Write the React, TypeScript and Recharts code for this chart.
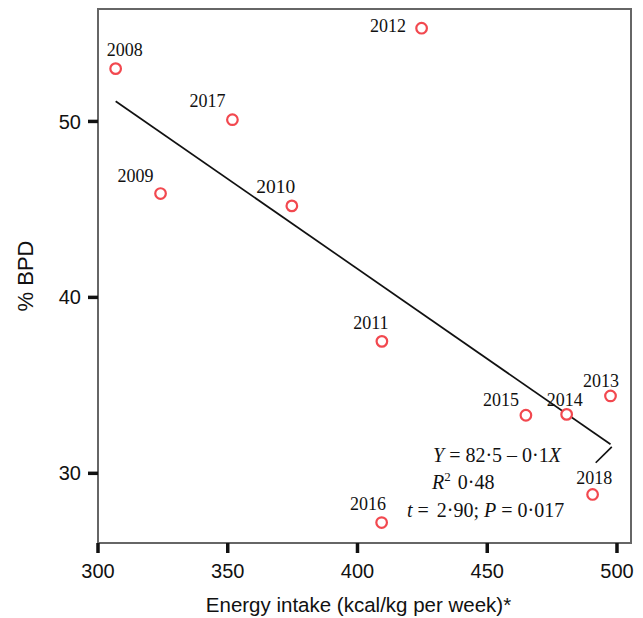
import React from 'react';
import { ScatterChart, Scatter, XAxis, YAxis, ReferenceLine, ReferenceArea } from 'recharts';

// ---- data ----
const years = [2008, 2009, 2010, 2011, 2012, 2013, 2014, 2015, 2016, 2017, 2018];
const energyIntake = [306.8, 324.1, 374.7, 409.4, 424.7, 497.5, 480.6, 464.9, 409.3, 351.8, 490.6];
const bpdPercent = [53.0, 45.9, 45.2, 37.5, 55.3, 34.4, 33.35, 33.3, 27.2, 50.1, 28.8];
const xTicks = [300, 350, 400, 450, 500];
const yTicks = [30, 40, 50];
const fitLine = [
  { x: 306.8, y: 51.15 },
  { x: 497.5, y: 31.65 },
];
const fitHook = [
  { x: 498.0, y: 31.5 },
  { x: 491.8, y: 30.6 },
];
const xDomain = [300, 505.4];
const yDomain = [26.04, 56.39];

// label placement (presentation only): dx = label center offset, dy = baseline offset
const labelOffsets: Record<number, { dx: number; dy: number; size?: number }> = {
  2008: { dx: 9, dy: -13 },
  2009: { dx: -25, dy: -11.7 },
  2010: { dx: -16, dy: -13, size: 19.5 },
  2011: { dx: -11, dy: -12 },
  2012: { dx: -33.7, dy: 3.4 },
  2013: { dx: -9.4, dy: -9.3 },
  2014: { dx: -2, dy: -8.6 },
  2015: { dx: -24.8, dy: -9.3 },
  2016: { dx: -13.7, dy: -12.3 },
  2017: { dx: -25, dy: -12.3 },
  2018: { dx: 1.6, dy: -10.3 },
};

const points = years.map((year, i) => ({ year, x: energyIntake[i], y: bpdPercent[i] }));

const SERIF = '"Liberation Serif", "Times New Roman", serif';
const SANS = '"Liberation Sans", Arial, Helvetica, sans-serif';

const PointShape = (props: any) => {
  const { cx, cy, payload } = props;
  if (cx == null || cy == null) return null;
  const off = labelOffsets[payload.year] || { dx: 0, dy: -12 };
  return (
    <g>
      <circle cx={cx} cy={cy} r={5.3} fill="#fff" stroke="#f2484f" strokeWidth={2.2} />
      <text
        x={cx + off.dx}
        y={cy + off.dy}
        textAnchor="middle"
        fontFamily={SERIF}
        fontSize={off.size || 18}
        fill="#111"
      >
        {payload.year}
      </text>
    </g>
  );
};

export default function App() {
  return (
    <div style={{ position: 'absolute', left: 0, top: 0, width: 643, height: 618, background: '#fff' }}>
      <ScatterChart width={643} height={618} margin={{ top: 9, right: 12, bottom: 0, left: 0 }}>
        <XAxis
          type="number"
          dataKey="x"
          domain={xDomain}
          ticks={xTicks}
          allowDataOverflow
          height={75}
          axisLine={{ stroke: '#666', strokeWidth: 2 }}
          tickLine={{ stroke: '#111', strokeWidth: 3.5 }}
          tickSize={10}
          tickMargin={11}
          tick={{ fill: '#111', fontSize: 20, fontFamily: SANS }}
          label={{
            content: (p: any) => {
              const vb = p.viewBox || { x: 98, y: 543, width: 533, height: 75 };
              return (
                <text x={vb.x + vb.width / 2 - 6} y={vb.y + 69} textAnchor="middle" fontFamily={SANS} fontSize={20.5} fill="#111">
                  Energy intake (kcal/kg per week)*
                </text>
              );
            },
          }}
        />
        <YAxis
          type="number"
          dataKey="y"
          domain={yDomain}
          ticks={yTicks}
          allowDataOverflow
          width={98}
          axisLine={{ stroke: '#666', strokeWidth: 2 }}
          tickLine={{ stroke: '#111', strokeWidth: 3.5 }}
          tickSize={10}
          tickMargin={7}
          tick={{ fill: '#111', fontSize: 20, fontFamily: SANS }}
          label={{
            content: (p: any) => {
              const vb = p.viewBox || { x: 0, y: 9, width: 98, height: 534 };
              const cx = vb.x + 33;
              const cy = vb.y + vb.height / 2;
              return (
                <text x={cx} y={cy} transform={`rotate(-90, ${cx}, ${cy})`} textAnchor="middle" fontFamily={SANS} fontSize={22} fill="#111">
                  % BPD
                </text>
              );
            },
          }}
        />
        <ReferenceArea
          x1={xDomain[0]}
          x2={xDomain[1]}
          y1={yDomain[0]}
          y2={yDomain[1]}
          fill="none"
          fillOpacity={0}
          stroke="#666"
          strokeWidth={2}
          ifOverflow="visible"
        />
        <ReferenceLine segment={fitLine} stroke="#111" strokeWidth={1.7} ifOverflow="visible" />
        <ReferenceLine segment={fitHook} stroke="#111" strokeWidth={1.7} ifOverflow="visible" />
        <Scatter data={points} isAnimationActive={false} shape={PointShape} />
      </ScatterChart>
      <svg
        width={643}
        height={618}
        style={{ position: 'absolute', left: 0, top: 0, pointerEvents: 'none' }}
      >
        <text x={433} y={462} fontFamily={SERIF} fontSize={20} fill="#111">
          <tspan fontStyle="italic">Y</tspan>
          <tspan> = 82·5 – 0·1</tspan>
          <tspan fontStyle="italic">X</tspan>
        </text>
        <text x={432} y={489} fontFamily={SERIF} fontSize={20} fill="#111">
          <tspan fontStyle="italic">R</tspan>
          <tspan fontSize={13} dy={-8}>2</tspan>
          <tspan dy={8} dx={7}>0·48</tspan>
        </text>
        <text x={407} y={517} fontFamily={SERIF} fontSize={20} fill="#111">
          <tspan fontStyle="italic">t</tspan>
          <tspan> =</tspan>
          <tspan dx={8}>2·90;</tspan>
          <tspan dx={5} fontStyle="italic">P</tspan>
          <tspan> = 0·017</tspan>
        </text>
      </svg>
    </div>
  );
}
